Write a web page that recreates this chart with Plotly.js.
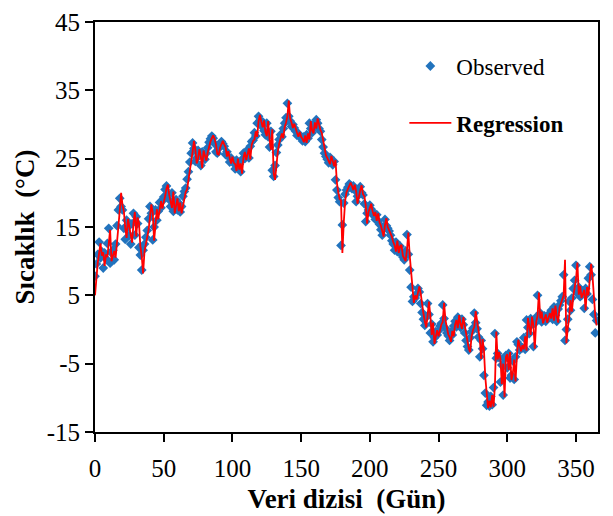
<!DOCTYPE html>
<html>
<head>
<meta charset="utf-8">
<script src="https://cdn.plot.ly/plotly-3.0.1.min.js"></script>
<style>
html,body{margin:0;padding:0;background:#fff;}
#chart{width:613px;height:516px;}
</style>
</head>
<body>
<div id="chart"></div>
<script>
// Observed daily temperatures (°C), day 0..365
var observed = [
7.8, 9.6, 11.0, 12.8, 10.5, 11.4, 9.0, 11.2, 10.4, 12.6,
14.8, 9.7, 11.2, 11.6, 10.2, 12.5, 15.2, 17.5, 19.2, 18.0,
17.5, 14.8, 13.2, 16.0, 15.0, 13.8, 12.5, 15.5, 17.0, 13.8,
16.5, 15.5, 12.0, 10.9, 8.7, 11.6, 12.5, 13.5, 14.5, 16.2,
18.0, 17.0, 13.1, 15.0, 17.5, 16.0, 17.3, 18.6, 17.8, 18.8,
19.4, 20.5, 21.0, 19.8, 19.0, 18.0, 20.0, 17.3, 18.0, 19.0,
17.5, 18.5, 17.2, 18.0, 19.5, 20.2, 20.7, 22.0, 23.1, 24.5,
25.8, 27.3, 26.5, 24.6, 25.1, 26.2, 25.5, 24.0, 26.0, 25.3,
24.9, 25.8, 26.6, 27.4, 27.9, 28.3, 28.0, 27.2, 26.0, 25.8,
26.5, 27.0, 27.5, 27.2, 26.8, 25.6, 26.0, 25.3, 24.5, 25.1,
24.6, 24.3, 23.5, 24.8, 23.6, 24.2, 23.1, 24.9, 25.8, 25.0,
25.6, 26.3, 25.1, 26.8, 27.5, 27.7, 28.8, 28.3, 30.2, 31.2,
30.6, 29.8, 30.4, 29.1, 28.5, 30.2, 28.2, 26.7, 29.0, 23.3,
22.4, 24.0, 25.9, 27.0, 27.8, 28.5, 28.2, 29.4, 30.2, 31.0,
33.1, 31.2, 30.5, 29.7, 30.0, 29.5, 29.0, 28.4, 28.7, 28.3,
28.0, 27.6, 28.2, 27.5, 28.5, 28.0, 30.2, 29.4, 28.8, 30.0,
29.6, 30.7, 30.2, 29.4, 29.0, 27.8, 26.7, 25.8, 25.3, 24.9,
24.4, 25.2, 24.8, 24.1, 24.6, 21.9, 20.4, 19.3, 18.7, 12.3,
15.3, 18.5, 19.8, 20.4, 20.8, 21.3, 21.1, 20.6, 21.0, 20.4,
18.7, 19.5, 20.2, 20.9, 20.0, 19.7, 18.4, 15.8, 17.0, 17.5,
18.2, 17.6, 16.8, 17.0, 16.1, 16.8, 15.9, 15.4, 14.6, 13.8,
15.0, 16.1, 15.2, 14.8, 14.4, 13.8, 13.0, 12.5, 11.6, 12.8,
11.4, 12.0, 12.2, 11.0, 10.6, 10.2, 11.5, 13.9, 11.0, 8.7,
6.2, 4.1, 4.8, 4.6, 5.2, 6.0, 5.5, 3.8, 2.5, 1.5,
0.6, 1.8, 3.8, 2.2, -0.5, 0.8, -1.8, -1.2, -0.3, -0.8,
-0.2, 0.5, 0.9, 3.6, 1.6, 0.2, -0.5, -0.9, -1.6, -0.4,
-0.8, 0.5, 1.2, 0.4, 1.8, 1.0, 0.3, 1.5, 0.7, -0.5,
-1.6, -2.5, -3.0, -1.2, -0.3, 0.2, 2.4, 1.0, 0.1, -1.1,
-4.0, -1.6, -2.8, -6.7, -9.3, -11.1, -10.6, -11.2, -9.8, -11.0,
-8.5, -0.6, -4.2, -3.5, -4.1, -7.7, -5.2, -9.6, -4.3, -3.8,
-5.6, -3.5, -7.1, -6.7, -4.6, -7.3, -4.0, -1.8, -2.2, -3.0,
-2.5, -2.7, -1.2, -2.9, 1.4, 0.3, -0.6, 1.6, 0.8, -2.5,
0.9, 1.8, 5.0, 1.8, 2.4, 1.1, 1.4, 2.0, 1.2, 1.6,
2.2, 1.8, 2.8, 1.5, 3.3, 2.1, 1.2, 3.0, 3.6, 4.2,
4.8, 8.0, -1.6, 0.0, 1.5, 4.1, 2.8, 4.6, 6.0, 7.2,
9.4, 5.3, 6.2, 4.8, 5.0, 5.6, 3.1, 6.0, 5.2, 7.5,
9.2, 8.0, 4.4, 2.2, -0.5, 1.3
];

// Regression predictions (°C), day 0..365
var regression = [
5.0, 8.2, 9.8, 11.2, 12.6, 10.8, 11.3, 9.3, 11.0, 10.6,
12.4, 14.6, 10.0, 11.0, 11.5, 10.5, 12.3, 15.0, 17.4, 20.0,
18.2, 17.3, 14.9, 13.4, 16.2, 15.1, 13.6, 12.7, 15.6, 17.2,
13.6, 16.4, 15.6, 12.2, 10.7, 8.2, 11.4, 12.6, 13.3, 14.6,
16.4, 18.3, 17.1, 13.0, 15.2, 17.6, 16.1, 17.2, 18.8, 17.7,
18.9, 19.5, 20.6, 21.2, 19.7, 18.8, 17.8, 20.2, 17.0, 18.1,
19.2, 17.3, 18.6, 17.0, 18.1, 19.6, 20.1, 20.5, 22.1, 23.0,
24.6, 26.0, 27.6, 26.3, 24.3, 25.0, 26.4, 25.3, 23.6, 26.2,
25.2, 24.7, 25.9, 26.8, 27.5, 28.0, 28.4, 27.9, 27.1, 25.7,
25.6, 26.6, 27.1, 27.6, 27.1, 26.7, 25.3, 26.1, 25.1, 24.3,
25.3, 24.4, 24.2, 23.2, 25.0, 23.4, 24.3, 22.8, 25.1, 26.0,
24.8, 25.7, 26.5, 24.9, 27.0, 27.6, 27.8, 29.0, 28.2, 30.5,
31.4, 30.4, 29.6, 30.6, 28.9, 28.3, 30.5, 27.9, 26.3, 29.3,
22.8, 21.9, 24.2, 26.0, 27.2, 27.9, 28.7, 28.0, 29.6, 30.3,
31.2, 33.5, 30.9, 30.3, 29.5, 30.1, 29.3, 28.8, 28.2, 28.9,
28.2, 27.9, 27.4, 28.4, 27.3, 28.7, 27.8, 30.5, 29.1, 28.7,
30.3, 29.4, 30.9, 30.0, 29.2, 28.8, 27.5, 26.4, 25.5, 25.1,
24.7, 24.2, 25.4, 24.6, 23.9, 24.8, 21.5, 20.1, 19.1, 18.9,
11.2, 15.6, 18.8, 20.1, 20.6, 21.0, 21.5, 21.0, 20.4, 21.2,
20.2, 18.4, 19.7, 20.4, 21.1, 19.8, 19.5, 18.2, 15.5, 17.2,
17.8, 18.4, 17.3, 16.6, 17.2, 15.9, 17.0, 15.7, 15.2, 14.4,
13.6, 15.3, 16.3, 15.0, 14.6, 14.2, 13.6, 12.8, 12.3, 11.4,
13.0, 11.2, 12.2, 12.4, 10.8, 10.4, 10.0, 11.7, 14.2, 10.8,
8.4, 5.8, 3.9, 5.0, 4.4, 5.4, 6.3, 5.3, 3.5, 2.3,
1.2, 0.3, 2.0, 4.1, 2.0, -0.8, 1.0, -2.1, -1.0, -0.1,
-1.0, 0.0, 0.7, 1.1, 3.9, 1.4, 0.0, -0.7, -1.1, -1.8,
-0.2, -1.0, 0.7, 1.4, 0.2, 2.1, 0.8, 0.1, 1.8, 0.5,
-0.8, -1.9, -2.8, -3.3, -1.0, -0.1, 0.4, 2.7, 0.8, -0.1,
-1.4, -4.3, -1.4, -3.0, -7.0, -9.6, -11.5, -10.4, -11.4, -9.6,
-11.3, -8.2, -0.3, -4.4, -3.3, -4.3, -8.0, -5.0, -9.9, -4.0,
-3.6, -5.9, -3.3, -7.4, -6.5, -4.4, -7.6, -3.8, -1.5, -2.4,
-3.2, -2.3, -2.9, -1.0, -3.1, 1.7, 0.1, -0.8, 1.9, 0.6,
-2.8, 1.1, 2.0, 5.4, 1.6, 2.6, 0.9, 1.6, 2.2, 1.0,
1.8, 2.4, 1.6, 3.1, 1.3, 3.5, 1.9, 1.0, 3.2, 3.8,
4.4, 5.0, 10.2, -2.0, 0.2, 1.7, 4.3, 2.6, 4.8, 6.2,
7.4, 9.8, 5.1, 6.4, 4.6, 5.2, 5.8, 2.8, 6.2, 5.0,
7.7, 9.6, 7.8, 4.1, 2.0, 0.6
];

var xTicks = [0, 50, 100, 150, 200, 250, 300, 350];
var yTicks = [-15, -5, 5, 15, 25, 35, 45];

var days = observed.map(function(_, i){ return i; });

var serif = "Liberation Serif, Times New Roman, serif";

var traces = [
  {
    x: days, y: observed, type: "scatter", mode: "markers",
    name: "Observed", legendrank: 1, legendgroup: "a",
    marker: {symbol: "diamond", size: 7.5, color: "#2273bd"}
  },
  {
    x: days, y: regression, type: "scatter", mode: "lines",
    name: "<b>Regression</b>", legendrank: 2, legendgroup: "b",
    line: {color: "#ff0000", width: 1.8}
  }
];

var layout = {
  width: 613, height: 516,
  margin: {l: 95, r: 15, t: 22, b: 84},
  paper_bgcolor: "#fff", plot_bgcolor: "#fff",
  font: {family: serif, size: 22, color: "#000"},
  showlegend: true,
  legend: {
    x: 0.615, y: 0.945, xanchor: "left", yanchor: "top",
    bgcolor: "rgba(0,0,0,0)", borderwidth: 0,
    font: {family: serif, size: 23, color: "#000"},
    traceorder: "grouped", tracegroupgap: 24, itemwidth: 42
  },
  xaxis: {
    range: [0, 366], tickvals: xTicks, ticktext: xTicks.map(String),
    ticks: "outside", ticklen: 8, tickwidth: 2, tickcolor: "#000",
    showline: true, linewidth: 2, linecolor: "#000", mirror: true,
    showgrid: false, zeroline: false, ticklabelstandoff: 5,
    tickfont: {family: serif, size: 25, color: "#000"},
    title: {text: "<b>Veri dizisi  (Gün)</b>", font: {family: serif, size: 27, color: "#000"}, standoff: 8}
  },
  yaxis: {
    range: [-15, 45], tickvals: yTicks, ticktext: yTicks.map(String),
    ticks: "outside", ticklen: 8, tickwidth: 2, tickcolor: "#000",
    showline: true, linewidth: 2, linecolor: "#000", mirror: true,
    showgrid: false, zeroline: false,
    tickfont: {family: serif, size: 25, color: "#000"},
    title: {text: "<b>Sıcaklık  (°C)</b>", font: {family: serif, size: 27, color: "#000"}, standoff: 4}
  }
};

Plotly.newPlot("chart", traces, layout, {displayModeBar: false, staticPlot: true});
</script>
</body>
</html>
